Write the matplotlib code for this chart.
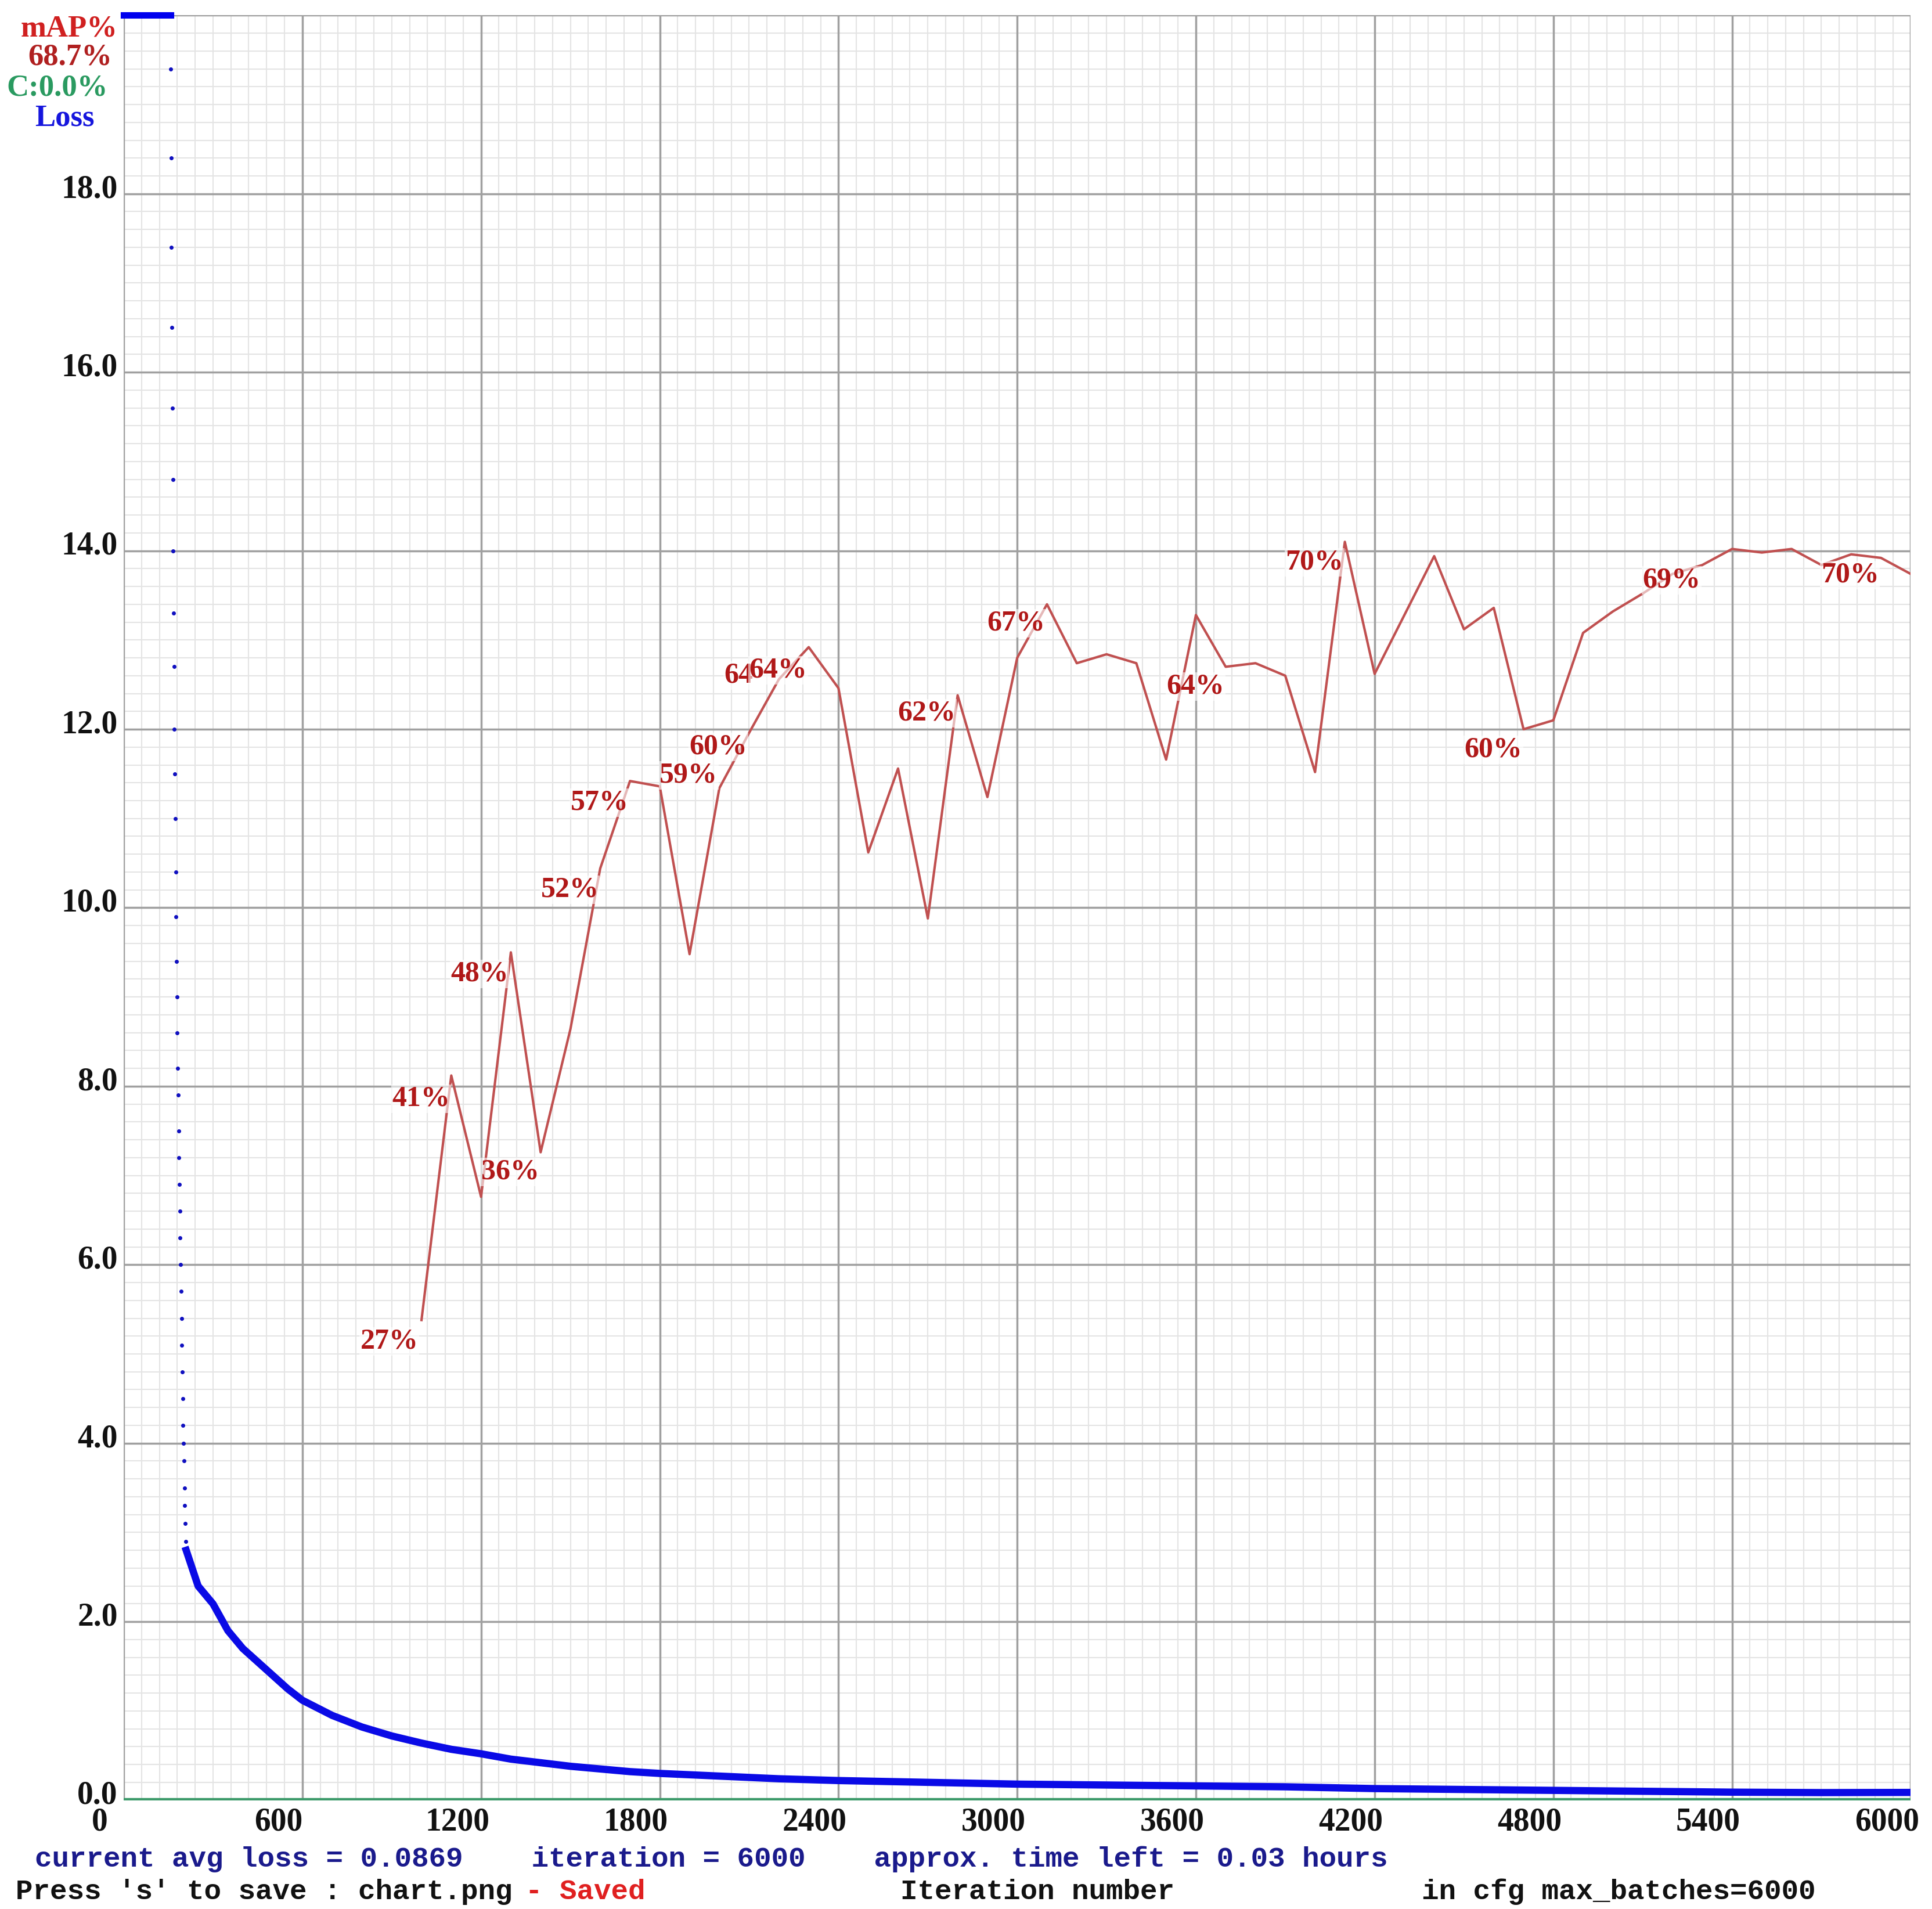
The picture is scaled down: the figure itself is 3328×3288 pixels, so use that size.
import numpy as np
import matplotlib.pyplot as plt

# ---- datos ----
# caida inicial de la perdida (puntos sueltos)
loss_drop = [19.4, 18.4, 17.4, 16.5, 15.6, 14.8, 14.0, 13.3, 12.7, 12.0, 11.5, 11.0,
             10.4, 9.9, 9.4, 9.0, 8.6, 8.2, 7.9, 7.5, 7.2, 6.9, 6.6, 6.3, 6.0, 5.7,
             5.4, 5.1, 4.8, 4.5, 4.2, 4.0, 3.8, 3.5, 3.3, 3.1, 2.9]
loss_iter = [210, 250, 300, 350, 400, 450, 500, 550, 600, 700, 800, 900, 1000, 1100,
             1200, 1300, 1400, 1500, 1600, 1700, 1800, 2000, 2200, 2400, 2700, 3000,
             3300, 3600, 3900, 4200, 4500, 4800, 5100, 5400, 5700, 6000]
loss_vals = [2.8, 2.4, 2.2, 1.9, 1.7, 1.55, 1.4, 1.25, 1.12, 0.95, 0.82, 0.72, 0.64,
             0.57, 0.52, 0.46, 0.42, 0.38, 0.35, 0.32, 0.30, 0.27, 0.24, 0.22, 0.20,
             0.18, 0.17, 0.16, 0.15, 0.13, 0.12, 0.11, 0.10, 0.09, 0.085, 0.087]

map_iter = list(range(1000, 6001, 100))
map_vals = [26.9, 40.6, 33.8, 47.5, 36.3, 43.2, 52.2, 57.1, 56.8, 47.4, 56.7, 59.8,
            62.8, 64.6, 62.3, 53.1, 57.8, 49.4, 61.9, 56.2, 64.0, 67.0, 63.7, 64.2,
            63.7, 58.3, 66.4, 63.5, 63.7, 63.0, 57.6, 70.5, 63.1, 66.4, 69.7, 65.6,
            66.8, 60.0, 60.5, 65.4, 66.6, 67.6, 68.7, 69.2, 70.1, 69.9, 70.1, 69.2,
            69.8, 69.6, 68.7]

labels = ["27%", "41%", "36%", "48%", "52%", "57%", "59%", "60%", "64", "64%", "62%",
          "67%", "64%", "70%", "60%", "69%", "70%"]
label_x = [892, 999, 1298, 1195, 1498, 1598, 1897, 1997, 2064, 2197, 2696, 2996,
           3599, 3998, 4598, 5197, 5796]
label_y = [5.14, 7.86, 7.04, 9.26, 10.2, 11.18, 11.48, 11.8, 12.6, 12.66, 12.18,
           13.19, 12.48, 13.87, 11.77, 13.67, 13.73]

xticks = [0, 600, 1200, 1800, 2400, 3000, 3600, 4200, 4800, 5400, 6000]
yticks = [0, 2, 4, 6, 8, 10, 12, 14, 16, 18]

# ---- grafico ----
fig = plt.figure(figsize=(33.28, 32.88), dpi=100)
ax = fig.add_axes([0.064, 0.057, 0.925, 0.935])
ax.set_xlim(0, 6000)
ax.set_ylim(0, 20)

for x in np.arange(0, 6001, 60):
    ax.axvline(x, color='#e4e4e4', lw=1.5, zorder=0)
for y in np.arange(0, 20.01, 0.2):
    ax.axhline(y, color='#e4e4e4', lw=1.5, zorder=0)
for x in xticks:
    ax.axvline(x, color='#a0a0a0', lw=2.5, zorder=1)
for y in yticks + [20]:
    ax.axhline(y, color='#a0a0a0', lw=2.5, zorder=1)
for s in ax.spines.values():
    s.set_visible(False)

ax.set_xticks([])
ax.set_yticks([])
tfont = dict(family='Liberation Serif', fontsize=40, fontweight='bold', color='#111111',
             clip_on=False)
for x in xticks:
    ax.text(x - 80, -0.08, str(x), ha='center', va='top', **tfont)
for y in yticks:
    ax.text(-20, y + 0.05, "%.1f" % y, ha='right', va='center', **tfont)

# perdida
drop_x = np.linspace(158, 208, len(loss_drop))
ax.plot(drop_x, loss_drop, 'o', color='#1010c0', ms=4, zorder=4)
ax.plot(loss_iter, loss_vals, color='#0a0ae6', lw=9, zorder=4)
ax.plot([0, 158], [20, 20], color='#0000ee', lw=8, zorder=5, clip_on=False)
ax.axhline(0, color='#3c9a6a', lw=6, zorder=3)

# mAP
map_y = [v / 5 for v in map_vals]
ax.plot(map_iter, map_y, color='#c05050', lw=3, zorder=5)
for t, x, y in zip(labels, label_x, label_y):
    ax.text(x, y, t, ha='center', va='center', family='Liberation Serif',
            fontsize=36, fontweight='bold', color='#b01818', zorder=6,
            bbox=dict(facecolor='white', edgecolor='none', pad=1, alpha=0.6))

# leyenda superior izquierda
lf = dict(family='Liberation Serif', fontsize=38, fontweight='bold', ha='right')
fig.text(0.061, 0.985, "mAP%", color='#d02020', va='center', **lf)
fig.text(0.058, 0.970, "68.7%", color='#b02020', va='center', **lf)
fig.text(0.056, 0.954, "C:0.0%", color='#2a9a60', va='center', **lf)
fig.text(0.049, 0.938, "Loss", color='#1515dd', va='center', **lf)

# texto inferior
bf = dict(family='Liberation Mono', fontsize=35.5, fontweight='bold', va='center')
fig.text(0.018, 0.026, "current avg loss = 0.0869    iteration = 6000    approx. time left = 0.03 hours",
         color='#1a1a8c', **bf)
fig.text(0.008, 0.009, "Press 's' to save : chart.png", color='#111111', **bf)
fig.text(0.272, 0.009, "- Saved", color='#e02020', **bf)
fig.text(0.466, 0.009, "Iteration number", color='#111111', **bf)
fig.text(0.736, 0.009, "in cfg max_batches=6000", color='#111111', **bf)

fig.savefig('out.png', dpi=100, facecolor='white')
